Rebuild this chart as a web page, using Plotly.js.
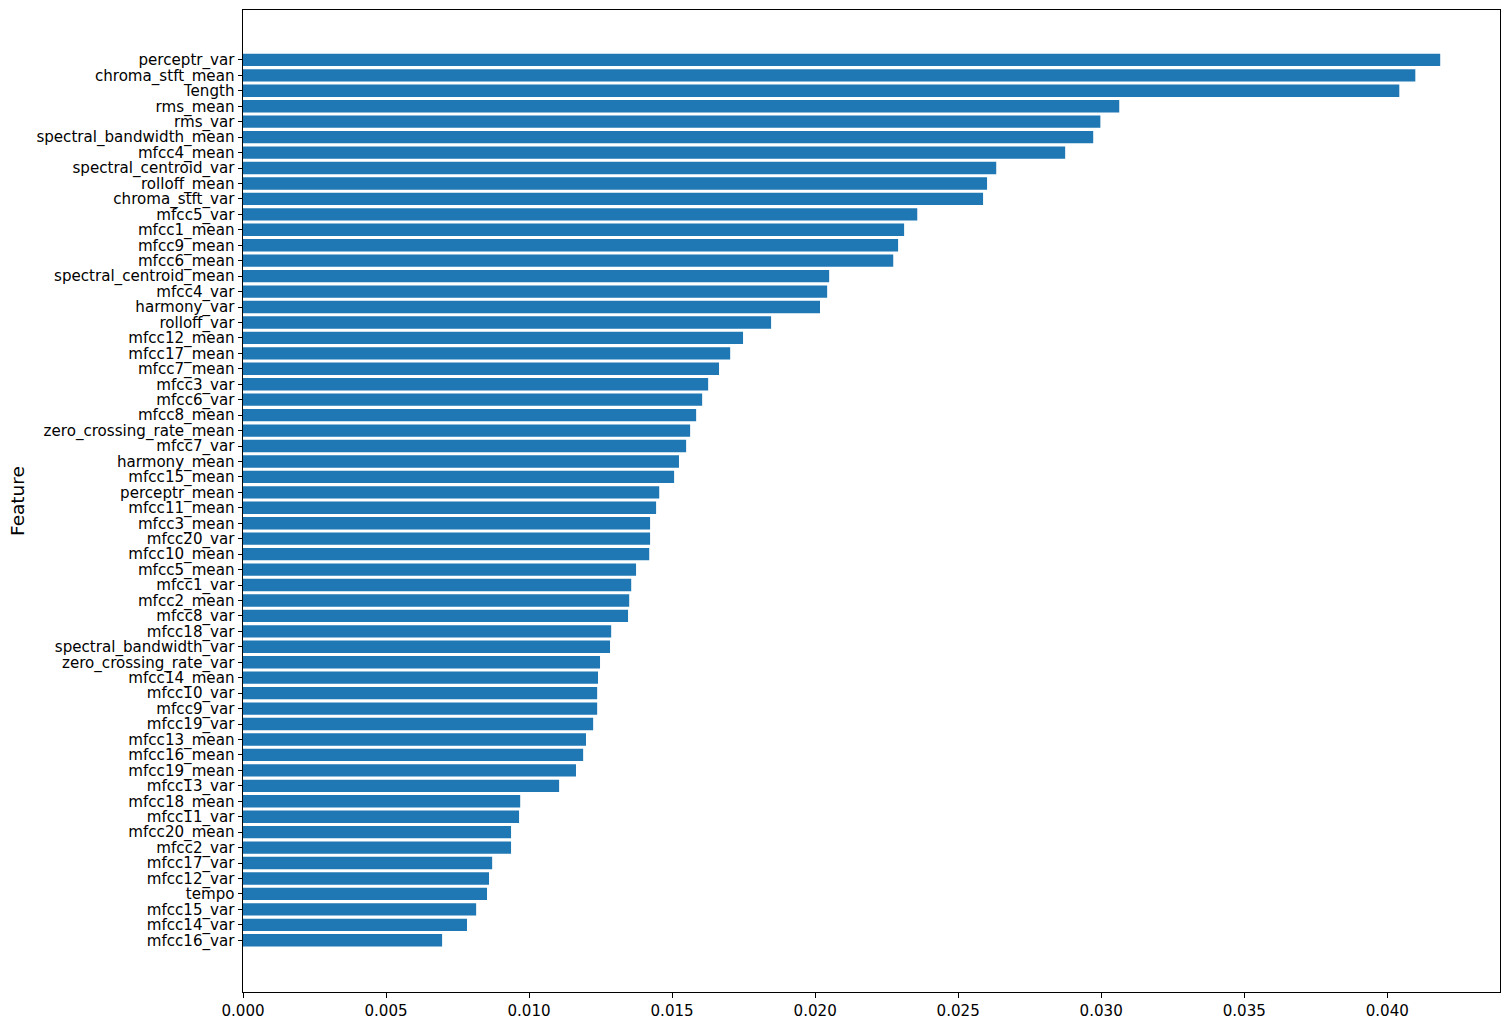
<!DOCTYPE html>
<html>
<head>
<meta charset="utf-8">
<script src="https://cdn.plot.ly/plotly-3.0.1.min.js"></script>
<style>
  html, body { margin: 0; padding: 0; background: #fff; }
  #chart { width: 1509px; height: 1020px; }
</style>
</head>
<body>
<div id="chart"></div>
<script>
// features listed bottom to top, as the bars are drawn
let features = [
  'mfcc16_var', 'mfcc14_var', 'mfcc15_var', 'tempo', 'mfcc12_var', 'mfcc17_var',
  'mfcc2_var', 'mfcc20_mean', 'mfcc11_var', 'mfcc18_mean', 'mfcc13_var',
  'mfcc19_mean', 'mfcc16_mean', 'mfcc13_mean', 'mfcc19_var', 'mfcc9_var',
  'mfcc10_var', 'mfcc14_mean', 'zero_crossing_rate_var', 'spectral_bandwidth_var',
  'mfcc18_var', 'mfcc8_var', 'mfcc2_mean', 'mfcc1_var', 'mfcc5_mean',
  'mfcc10_mean', 'mfcc20_var', 'mfcc3_mean', 'mfcc11_mean', 'perceptr_mean',
  'mfcc15_mean', 'harmony_mean', 'mfcc7_var', 'zero_crossing_rate_mean',
  'mfcc8_mean', 'mfcc6_var', 'mfcc3_var', 'mfcc7_mean', 'mfcc17_mean',
  'mfcc12_mean', 'rolloff_var', 'harmony_var', 'mfcc4_var', 'spectral_centroid_mean',
  'mfcc6_mean', 'mfcc9_mean', 'mfcc1_mean', 'mfcc5_var', 'chroma_stft_var',
  'rolloff_mean', 'spectral_centroid_var', 'mfcc4_mean', 'spectral_bandwidth_mean',
  'rms_var', 'rms_mean', 'length', 'chroma_stft_mean', 'perceptr_var'
];

let importance = [
  0.00696, 0.00783, 0.00815, 0.00853, 0.00860, 0.00871,
  0.00937, 0.00937, 0.00965, 0.00969, 0.01105,
  0.01164, 0.01189, 0.01199, 0.01224, 0.01238,
  0.01238, 0.01241, 0.01248, 0.01283,
  0.01287, 0.01346, 0.01350, 0.01357, 0.01374,
  0.01420, 0.01423, 0.01423, 0.01444, 0.01455,
  0.01507, 0.01524, 0.01549, 0.01563,
  0.01584, 0.01605, 0.01626, 0.01664, 0.01703,
  0.01748, 0.01846, 0.02017, 0.02042, 0.02049,
  0.02273, 0.02290, 0.02311, 0.02357, 0.02587,
  0.02601, 0.02633, 0.02874, 0.02972,
  0.02997, 0.03063, 0.04042, 0.04098, 0.04185
];

let xTicks = [0, 0.005, 0.010, 0.015, 0.020, 0.025, 0.030, 0.035, 0.040];

let trace = {
  x: importance,
  y: features,
  type: 'bar',
  orientation: 'h',
  width: 0.8,
  marker: {color: '#1f77b4'},
  hoverinfo: 'x+y'
};

let axisFont = {family: 'DejaVu Sans', size: 15.1, color: '#000'};

let layout = {
  width: 1509,
  height: 1020,
  margin: {l: 243, r: 9, t: 10, b: 28},
  paper_bgcolor: '#fff',
  plot_bgcolor: '#fff',
  showlegend: false,
  font: axisFont,
  xaxis: {
    range: [0, 0.04394],
    tickvals: xTicks,
    tickformat: '.3f',
    ticks: 'outside',
    ticklen: 4.5,
    tickwidth: 1,
    tickcolor: '#000',
    showgrid: false,
    zeroline: false,
    showline: true,
    linecolor: '#000',
    linewidth: 1,
    mirror: true,
    tickfont: axisFont
  },
  yaxis: {
    type: 'category',
    range: [-3.35, 60.23],
    tickmode: 'array',
    tickvals: features,
    ticktext: features,
    ticks: 'outside',
    ticklen: 4.5,
    tickwidth: 1,
    tickcolor: '#000',
    showgrid: false,
    zeroline: false,
    showline: true,
    linecolor: '#000',
    linewidth: 1,
    mirror: true,
    tickfont: axisFont
  },
  // y axis title as an annotation so it sits where the reference puts it
  annotations: [{
    text: 'Feature',
    textangle: -90,
    xref: 'paper',
    yref: 'paper',
    x: (17 - 243) / 1257,
    y: 0.5,
    xanchor: 'center',
    yanchor: 'middle',
    showarrow: false,
    font: {family: 'DejaVu Sans', size: 18.5, color: '#000'}
  }]
};

Plotly.newPlot('chart', [trace], layout, {displayModeBar: false, staticPlot: true});
</script>
</body>
</html>
